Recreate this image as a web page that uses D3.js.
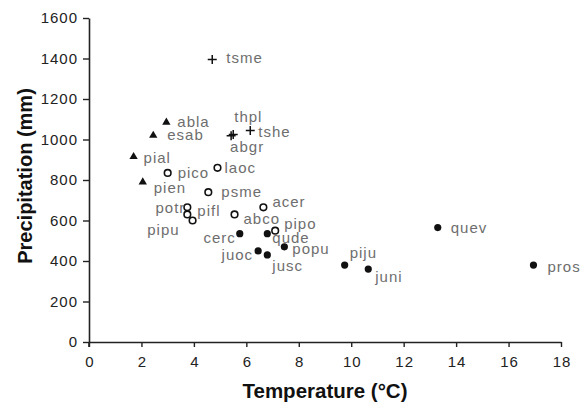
<!DOCTYPE html>
<html>
<head>
<meta charset="utf-8">
<script src="https://cdn.jsdelivr.net/npm/d3@7"></script>
<style>
  body { margin: 0; background: #fff; }
  text { font-family: "Liberation Sans", Arial, sans-serif; }
</style>
</head>
<body>
<div class="canvas"></div>
<script>
// species codes, mean annual temperature (°C), precipitation (mm), marker group
const species = ['tsme', 'abla', 'esab', 'pial', 'pien', 'thpl', 'abgr', 'tshe',
  'pico', 'laoc', 'psme', 'potr', 'pifl', 'pipu', 'acer', 'abco', 'pipo',
  'qude', 'cerc', 'popu', 'juoc', 'jusc', 'piju', 'juni', 'quev', 'pros']
const temps = [4.7, 2.95, 2.45, 1.7, 2.05, 5.5, 5.42, 6.15,
  3.0, 4.9, 4.55, 3.75, 3.75, 3.95, 6.65, 5.55, 7.1,
  6.8, 5.75, 7.45, 6.45, 6.8, 9.75, 10.65, 13.3, 16.95]
const precips = [1395, 1085, 1020, 915, 790, 1025, 1018, 1045,
  835, 860, 740, 665, 630, 600, 665, 630, 550,
  535, 535, 470, 450, 430, 380, 360, 565, 380]
const groups = ['plus', 'tri', 'tri', 'tri', 'tri', 'plus', 'plus', 'plus',
  'open', 'open', 'open', 'open', 'open', 'open', 'open', 'open', 'open',
  'fill', 'fill', 'fill', 'fill', 'fill', 'fill', 'fill', 'fill', 'fill']
const xTicks = [0, 2, 4, 6, 8, 10, 12, 14, 16, 18]
const yTicks = [0, 200, 400, 600, 800, 1000, 1200, 1400, 1600]

const data = species.map((s, i) => ({ name: s, t: temps[i], p: precips[i], g: groups[i] }))

// label placement: [dx, dy, anchor]
const labelPos = {
  tsme: [14, 3], abla: [11, 5], esab: [14, 5], pial: [10, 6], pien: [11, 11],
  thpl: [1, -12], abgr: [-1, 16], tshe: [8, 7], pico: [10, 5], laoc: [7, 5],
  psme: [13, 5], potr: [-2, 6, 'end'], pifl: [10, 2], pipu: [-13, 14, 'end'],
  acer: [9, 0], abco: [9, 10], pipo: [9, -2], qude: [5, 9], cerc: [-4, 9, 'end'],
  popu: [8, 7], juoc: [-5, 9, 'end'], jusc: [5, 16], piju: [5, -7], juni: [7, 13],
  quev: [13, 5], pros: [14, 7]
}

const svg = d3.select('.canvas')
  .append('svg')
    .attr('width', 580)
    .attr('height', 404)

const x = d3.scaleLinear().domain([0, 18]).range([89, 561])
const y = d3.scaleLinear().domain([0, 1600]).range([342, 18])

// axes
const xAxis = d3.axisBottom(x).tickValues(xTicks).tickFormat(d3.format('d'))
  .tickSize(5).tickPadding(9).tickSizeOuter(0)
const yAxis = d3.axisLeft(y).tickValues(yTicks).tickFormat(d3.format('d'))
  .tickSize(6).tickPadding(5).tickSizeOuter(0)

const xAxisGroup = svg.append('g').attr('transform', `translate(0, ${y(0)})`).call(xAxis)
const yAxisGroup = svg.append('g').attr('transform', `translate(${x(0)}, 0)`).call(yAxis)

;[xAxisGroup, yAxisGroup].forEach(g => {
  g.select('.domain').attr('stroke', '#222').attr('stroke-width', 1.6)
  g.selectAll('.tick line').attr('stroke', '#222').attr('stroke-width', 1.4)
  g.selectAll('.tick text')
    .attr('fill', '#222')
    .style('font-size', '15px')
    .style('letter-spacing', '1px')
    .style('font-family', '"Liberation Sans", Arial, sans-serif')
})
xAxisGroup.selectAll('.tick text').attr('dx', '0.5px')
// extend y axis line down past the origin a bit
yAxisGroup.append('line')
  .attr('x1', 0).attr('x2', 0).attr('y1', y(0)).attr('y2', y(0) + 5)
  .attr('stroke', '#222').attr('stroke-width', 1.6)

// titles
svg.append('text')
  .attr('x', 325).attr('y', 398)
  .attr('text-anchor', 'middle')
  .attr('font-weight', 'bold')
  .attr('font-size', '20.5px')
  .attr('fill', '#111')
  .text('Temperature (°C)')

svg.append('text')
  .attr('transform', 'translate(32, 176) rotate(-90)')
  .attr('text-anchor', 'middle')
  .attr('font-weight', 'bold')
  .attr('font-size', '20px')
  .attr('fill', '#111')
  .text('Precipitation (mm)')

// markers
const marks = svg.append('g')
const tri = d3.symbol().type(d3.symbolTriangle).size(30)

data.forEach(d => {
  const cx = x(d.t), cy = y(d.p)
  if (d.g === 'fill') {
    marks.append('circle').attr('cx', cx).attr('cy', cy).attr('r', 3.6).attr('fill', '#111')
  } else if (d.g === 'open') {
    marks.append('circle').attr('cx', cx).attr('cy', cy).attr('r', 3.3)
      .attr('fill', '#fff').attr('stroke', '#111').attr('stroke-width', 1.6)
  } else if (d.g === 'tri') {
    marks.append('path').attr('d', tri).attr('transform', `translate(${cx}, ${cy})`).attr('fill', '#111')
  } else {
    marks.append('path')
      .attr('d', `M${cx - 4.5},${cy}H${cx + 4.5}M${cx},${cy - 4.5}V${cy + 4.5}`)
      .attr('stroke', '#111').attr('stroke-width', 1.5)
  }
})

// labels
svg.append('g').selectAll('text')
  .data(data)
  .enter()
  .append('text')
    .attr('x', d => x(d.t) + labelPos[d.name][0])
    .attr('y', d => y(d.p) + labelPos[d.name][1])
    .attr('text-anchor', d => labelPos[d.name][2] || 'start')
    .attr('font-size', '15px')
    .attr('letter-spacing', '1px')
    .attr('fill', '#6e6e6e')
    .text(d => d.name)
</script>
</body>
</html>
